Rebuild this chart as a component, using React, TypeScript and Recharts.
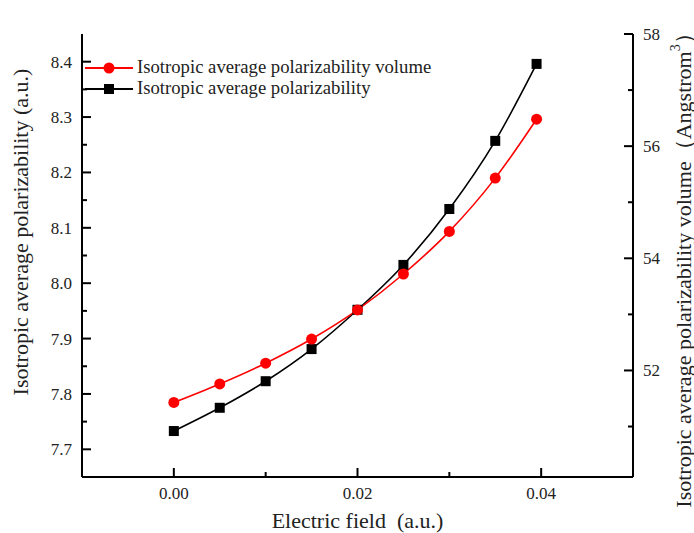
import { LineChart, Line, XAxis, YAxis, Label } from "recharts";

// electric field (a.u.)
const fieldValues = [0, 0.005, 0.01, 0.015, 0.02, 0.025, 0.03, 0.035, 0.0395];
// left axis, black squares
const polarizability = [7.733, 7.775, 7.823, 7.881, 7.952, 8.033, 8.134, 8.257, 8.396];
// right axis, red circles
const polarizabilityVolume = [51.43, 51.76, 52.13, 52.56, 53.08, 53.72, 54.48, 55.43, 56.48];

const xTicks = [0, 0.01, 0.02, 0.03, 0.04];
const xMajor = [0, 0.02, 0.04];
const leftTicks = [7.7, 7.75, 7.8, 7.85, 7.9, 7.95, 8.0, 8.05, 8.1, 8.15, 8.2, 8.25, 8.3, 8.35, 8.4];
const leftMajor = [7.7, 7.8, 7.9, 8.0, 8.1, 8.2, 8.3, 8.4];
const rightTicks = [51, 52, 53, 54, 55, 56, 57, 58];
const rightMajor = [52, 54, 56, 58];

const data = fieldValues.map((f, i) => ({
  field: f,
  alpha: polarizability[i],
  volume: polarizabilityVolume[i],
}));

const FONT = '"Liberation Serif", "Times New Roman", serif';
const TICK_FONT = 17;
const TITLE_FONT = 22;

function BottomTick({ x, y, payload }: any) {
  const major = xMajor.includes(payload.value);
  return (
    <g>
      <line x1={x} x2={x} y1={y} y2={y - (major ? 9 : 5)} stroke="#000" strokeWidth={2} />
      {major && (
        <text x={x} y={y + 22} textAnchor="middle" fontFamily={FONT} fontSize={TICK_FONT} fill="#222">
          {payload.value.toFixed(2)}
        </text>
      )}
    </g>
  );
}

function LeftTick({ x, y, payload }: any) {
  const major = leftMajor.includes(payload.value);
  return (
    <g>
      <line x1={x} x2={x + (major ? 9 : 5)} y1={y} y2={y} stroke="#000" strokeWidth={2} />
      {major && (
        <text x={x - 10} y={y} dy="0.35em" textAnchor="end" fontFamily={FONT} fontSize={TICK_FONT} fill="#222">
          {payload.value.toFixed(1)}
        </text>
      )}
    </g>
  );
}

function RightTick({ x, y, payload }: any) {
  const major = rightMajor.includes(payload.value);
  return (
    <g>
      <line x1={x} x2={x - (major ? 9 : 5)} y1={y} y2={y} stroke="#000" strokeWidth={2} />
      {major && (
        <text x={x + 10} y={y} dy="0.35em" textAnchor="start" fontFamily={FONT} fontSize={TICK_FONT} fill="#222">
          {payload.value}
        </text>
      )}
    </g>
  );
}

const SquareDot = ({ cx, cy }: any) => (
  <rect x={cx - 5} y={cy - 5} width={10} height={10} fill="#000" />
);

const leftTitle = (props: any) => {
  const { viewBox } = props;
  const cx = viewBox.x + 20;
  const cy = 232;
  return (
    <text x={cx} y={cy} transform={`rotate(-90 ${cx} ${cy})`} textAnchor="middle" dominantBaseline="central" fontFamily={FONT} fontSize={TITLE_FONT} fill="#222">
      Isotropic average polarizability (a.u.)
    </text>
  );
};

const rightTitle = (props: any) => {
  const { viewBox } = props;
  const cx = viewBox.x + 50;
  const cy = 265;
  return (
    <text x={cx} y={cy} transform={`rotate(-90 ${cx} ${cy})`} textAnchor="middle" dominantBaseline="central" fontFamily={FONT} fontSize={TITLE_FONT} fill="#222">
      Isotropic average polarizability volume（Angstrom
      <tspan dy={-8} fontSize={14}>3</tspan>
      <tspan dy={8}>）</tspan>
    </text>
  );
};

const bottomTitle = (props: any) => {
  const { viewBox } = props;
  const cx = viewBox.x + viewBox.width / 2;
  return (
    <text x={cx} y={viewBox.y + 51} textAnchor="middle" fontFamily={FONT} fontSize={TITLE_FONT} fill="#222">
      {"Electric field\u00a0 (a.u.)"}
    </text>
  );
};

function LegendOverlay() {
  const row = (color: string, square: boolean, text: string) => (
    <div style={{ display: "flex", alignItems: "center", height: 21 }}>
      <svg width={52} height={14} style={{ marginRight: 2 }}>
        <line x1={2} x2={50} y1={7} y2={7} stroke={color} strokeWidth={2} />
        {square ? <rect x={21} y={2} width={10} height={10} fill={color} /> : <circle cx={26} cy={7} r={5.5} fill={color} />}
      </svg>
      <span>{text}</span>
    </div>
  );
  return (
    <div style={{ position: "absolute", left: 83, top: 57, fontFamily: FONT, fontSize: 18.7, color: "#222", lineHeight: 1 }}>
      {row("#ff0000", false, "Isotropic average polarizability volume")}
      {row("#000000", true, "Isotropic average polarizability")}
    </div>
  );
}

export default function App() {
  return (
    <div style={{ position: "absolute", left: 0, top: 0, width: 694, height: 533, background: "#fff" }}>
      <LineChart width={694} height={533} data={data} margin={{ top: 34, right: 0, bottom: 0, left: 0 }}>
        <XAxis
          dataKey="field"
          type="number"
          domain={[-0.01, 0.05]}
          ticks={xTicks}
          interval={0}
          tickSize={0}
          tickMargin={0}
          tick={<BottomTick />}
          height={56}
          axisLine={{ stroke: "#000", strokeWidth: 2 }}
        >
          <Label content={bottomTitle} />
        </XAxis>
        <XAxis xAxisId="top" orientation="top" dataKey="field" type="number" domain={[-0.01, 0.05]} height={0} tick={false} tickLine={false} axisLine={{ stroke: "#000", strokeWidth: 2 }} />
        <YAxis
          yAxisId="left"
          type="number"
          domain={[7.65, 8.45]}
          ticks={leftTicks}
          interval={0}
          tickSize={0}
          tickMargin={0}
          tick={<LeftTick />}
          width={82}
          axisLine={{ stroke: "#000", strokeWidth: 2 }}
        >
          <Label content={leftTitle} />
        </YAxis>
        <YAxis
          yAxisId="right"
          orientation="right"
          type="number"
          domain={[50.1, 58]}
          ticks={rightTicks}
          interval={0}
          tickSize={0}
          tickMargin={0}
          tick={<RightTick />}
          width={61}
          axisLine={{ stroke: "#000", strokeWidth: 2 }}
        >
          <Label content={rightTitle} />
        </YAxis>
        <Line
          yAxisId="left"
          type="monotone"
          dataKey="alpha"
          stroke="#000"
          strokeWidth={1.6}
          dot={<SquareDot />}
          activeDot={false}
          isAnimationActive={false}
        />
        <Line
          yAxisId="right"
          type="monotone"
          dataKey="volume"
          stroke="#ff0000"
          strokeWidth={1.6}
          dot={{ r: 5.5, fill: "#ff0000", stroke: "none" }}
          activeDot={false}
          isAnimationActive={false}
        />
      </LineChart>
      <LegendOverlay />
    </div>
  );
}
